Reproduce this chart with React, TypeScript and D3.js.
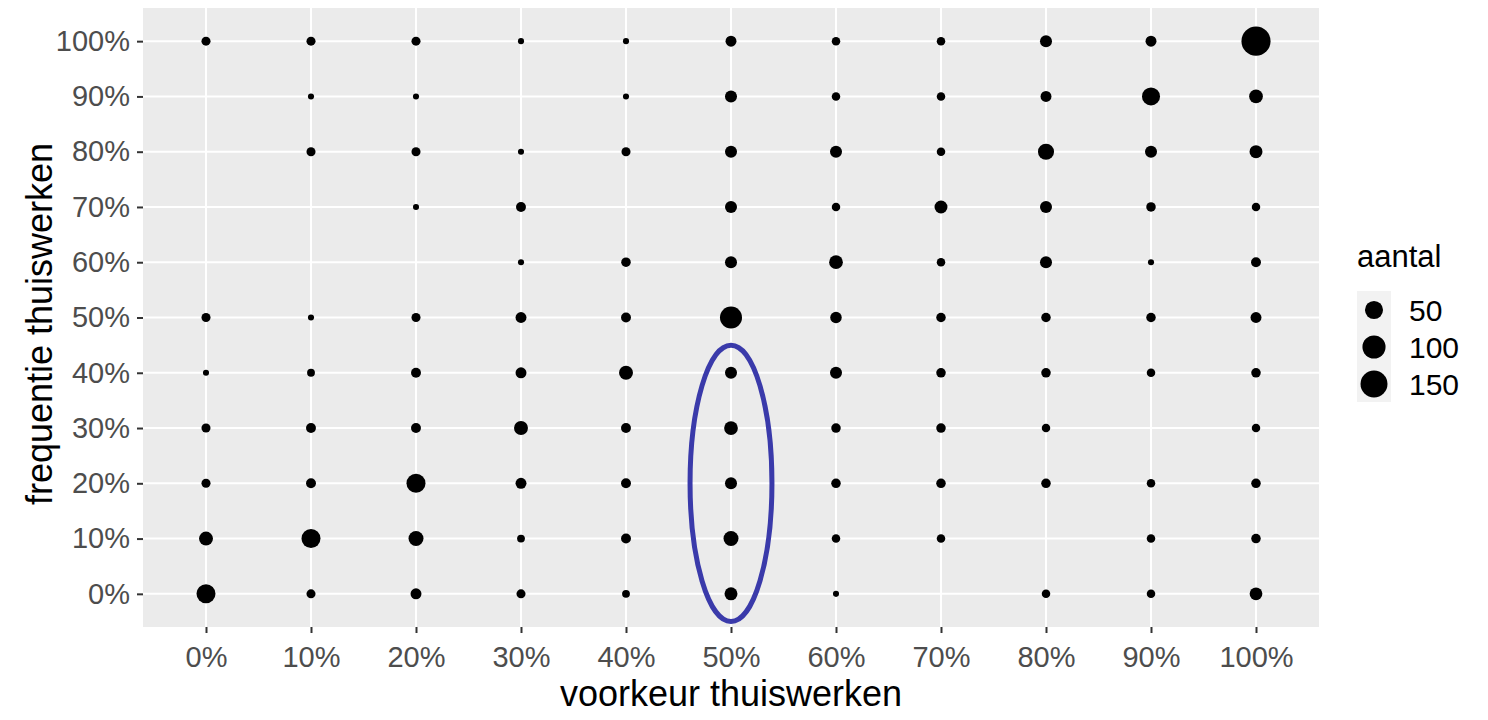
import * as d3 from 'd3';
import { useEffect, useRef } from 'react';

// categories (both axes are factors in the original plot)
const voorkeur = ['0%', '10%', '20%', '30%', '40%', '50%', '60%', '70%', '80%', '90%', '100%'];
const frequentie = ['0%', '10%', '20%', '30%', '40%', '50%', '60%', '70%', '80%', '90%', '100%'];

// aantal per frequentie row, one value per voorkeur column (0 = no point)
const freq0 = [58, 4, 9, 4, 2, 17, 1, 0, 3, 3, 16];
const freq10 = [22, 58, 28, 2, 6, 28, 3, 3, 0, 3, 5];
const freq20 = [4, 6, 58, 9, 6, 13, 5, 5, 5, 3, 5];
const freq30 = [4, 6, 6, 22, 6, 21, 5, 5, 3, 0, 3];
const freq40 = [1, 2, 6, 9, 22, 13, 13, 5, 5, 3, 5];
const freq50 = [4, 1, 4, 9, 6, 88, 11, 5, 5, 5, 9];
const freq60 = [0, 0, 0, 1, 5, 13, 21, 3, 13, 1, 6];
const freq70 = [0, 0, 1, 6, 0, 13, 3, 17, 13, 5, 3];
const freq80 = [0, 4, 4, 1, 4, 13, 13, 3, 35, 13, 17];
const freq90 = [0, 1, 1, 0, 1, 13, 3, 3, 9, 50, 21];
const freq100 = [4, 4, 4, 1, 1, 9, 3, 3, 13, 9, 182];

const rows = [freq0, freq10, freq20, freq30, freq40, freq50, freq60, freq70, freq80, freq90, freq100];

// legend breaks
const legendBreaks = [50, 100, 150];

const FONT = '"Liberation Sans", Arial, sans-serif';

const W = 1488;
const H = 720;
const panel = { left: 143, right: 1319, top: 8, bottom: 627 };

export default function App() {
  const ref = useRef<SVGSVGElement>(null);

  useEffect(() => {
    if (!ref.current) return;
    const svg = d3.select(ref.current);
    svg.selectAll('*').remove();

    const points = rows.flatMap((row, i) =>
      row.map((n, j) => ({ x: voorkeur[j], y: frequentie[i], n })).filter((d) => d.n > 0),
    );

    const x = d3.scalePoint<string>().domain(voorkeur).range([panel.left, panel.right]).padding(0.6);
    const y = d3.scalePoint<string>().domain(frequentie).range([panel.bottom, panel.top]).padding(0.6);

    // ggplot-like area scale: size 1..6 on sqrt of rescaled count, plus point outline
    const minN = d3.min(points, (d) => d.n) as number;
    const maxN = d3.max(points, (d) => d.n) as number;
    const rescale = d3.scaleLinear().domain([minN, maxN]).range([0, 1]).clamp(true);
    const sizeScale = d3.scaleLinear().domain([0, 1]).range([1, 6]);
    const radius = (n: number) => (sizeScale(Math.sqrt(rescale(n))) * 4.6) / 2 + 0.75;

    // panel
    svg
      .append('rect')
      .attr('x', panel.left)
      .attr('y', panel.top)
      .attr('width', panel.right - panel.left)
      .attr('height', panel.bottom - panel.top)
      .attr('fill', '#EBEBEB');

    const grid = svg.append('g').attr('stroke', '#ffffff').attr('stroke-width', 2);
    grid
      .selectAll('line.v')
      .data(voorkeur)
      .join('line')
      .attr('class', 'v')
      .attr('x1', (d) => x(d)!)
      .attr('x2', (d) => x(d)!)
      .attr('y1', panel.top)
      .attr('y2', panel.bottom);
    grid
      .selectAll('line.h')
      .data(frequentie)
      .join('line')
      .attr('class', 'h')
      .attr('y1', (d) => y(d)!)
      .attr('y2', (d) => y(d)!)
      .attr('x1', panel.left)
      .attr('x2', panel.right);

    // axes
    const xAxis = svg
      .append('g')
      .attr('transform', `translate(0,${panel.bottom})`)
      .call(d3.axisBottom(x).tickSize(6).tickPadding(8));
    const yAxis = svg
      .append('g')
      .attr('transform', `translate(${panel.left},0)`)
      .call(d3.axisLeft(y).tickSize(6).tickPadding(7));
    [xAxis, yAxis].forEach((a) => {
      a.select('.domain').remove();
      a.selectAll('.tick line').attr('stroke', '#333333').attr('stroke-width', 2);
      a.selectAll('.tick text')
        .attr('fill', '#4D4D4D')
        .style('font-family', FONT)
        .style('font-size', '29px');
    });
    xAxis.selectAll('.tick text').attr('dy', '0.88em');

    // points
    svg
      .append('g')
      .selectAll('circle')
      .data(points)
      .join('circle')
      .attr('cx', (d) => x(d.x)!)
      .attr('cy', (d) => y(d.y)!)
      .attr('r', (d) => radius(d.n))
      .attr('fill', '#000000');

    // highlight ellipse around 50% column, 0%-40% rows
    const cy = (y('0%')! + y('40%')!) / 2;
    svg
      .append('ellipse')
      .attr('cx', x('50%')!)
      .attr('cy', cy)
      .attr('rx', x.step() * 0.39)
      .attr('ry', (y('0%')! - y('40%')!) / 2 + y.step() * 0.5)
      .attr('fill', 'none')
      .attr('stroke', '#3A3AAA')
      .attr('stroke-width', 5);

    // axis titles
    svg
      .append('text')
      .attr('x', (panel.left + panel.right) / 2)
      .attr('y', 706)
      .attr('text-anchor', 'middle')
      .style('font-family', FONT)
      .style('font-size', '36px')
      .attr('fill', '#000')
      .text('voorkeur thuiswerken');
    svg
      .append('text')
      .attr('transform', `translate(52,324) rotate(-90)`)
      .attr('text-anchor', 'middle')
      .style('font-family', FONT)
      .style('font-size', '36px')
      .attr('fill', '#000')
      .text('frequentie thuiswerken');

    // legend
    const legend = svg.append('g');
    legend
      .append('text')
      .attr('x', 1357)
      .attr('y', 267)
      .style('font-family', FONT)
      .style('font-size', '31px')
      .attr('fill', '#000')
      .text('aantal');
    const keyY = d3.scalePoint<number>().domain(legendBreaks).range([310, 384]);
    legend
      .append('rect')
      .attr('x', 1357)
      .attr('y', 291)
      .attr('width', 34)
      .attr('height', 111)
      .attr('fill', '#F2F2F2');
    legend
      .selectAll('circle')
      .data(legendBreaks)
      .join('circle')
      .attr('cx', 1374)
      .attr('cy', (d) => keyY(d)!)
      .attr('r', (d) => radius(d))
      .attr('fill', '#000');
    legend
      .selectAll('text.lab')
      .data(legendBreaks)
      .join('text')
      .attr('class', 'lab')
      .attr('x', 1409)
      .attr('y', (d) => keyY(d)!)
      .attr('dy', '0.36em')
      .style('font-family', FONT)
      .style('font-size', '30px')
      .attr('fill', '#000')
      .text((d) => String(d));
  }, []);

  return (
    <svg
      ref={ref}
      width={W}
      height={H}
      style={{ position: 'absolute', left: 0, top: 0, background: '#ffffff' }}
    ></svg>
  );
}
